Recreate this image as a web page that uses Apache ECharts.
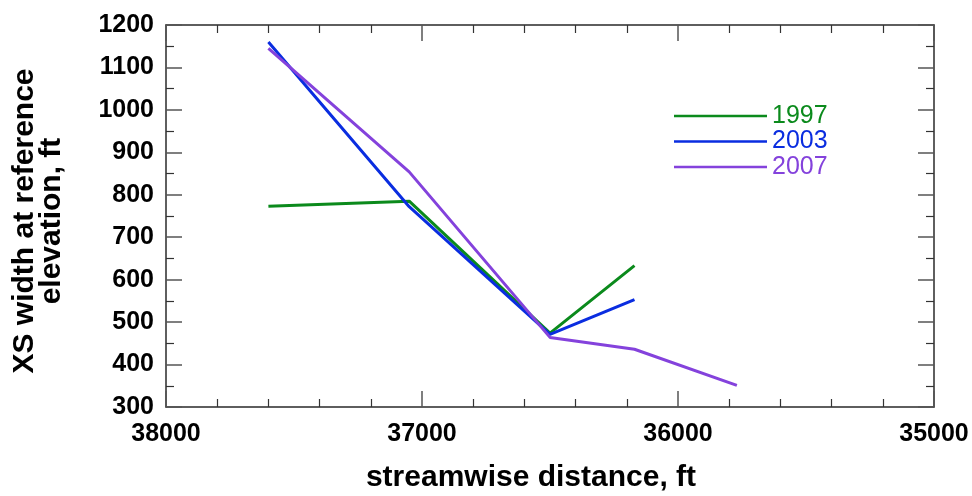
<!DOCTYPE html>
<html>
<head>
<meta charset="utf-8">
<script src="https://cdn.jsdelivr.net/npm/echarts@6/dist/echarts.min.js"></script>
<style>
  html, body { margin: 0; padding: 0; background: #fff; }
  #chart { width: 972px; height: 496px; }
</style>
</head>
<body>
<div id="chart"></div>
<script>
// Streamwise distance of each cross section (ft)
const distances = [37600, 37050, 36500, 36170, 35770];
// Cross-section width at reference elevation (ft), by survey year
const width1997 = [773, 785, 474, 633, null];
const width2003 = [1160, 772, 471, 553, null];
const width2007 = [1145, 854, 464, 436, 351];
const years = ['1997', '2003', '2007'];
const colors = ['#0b8a1c', '#0a2de0', '#8442dc'];

const xTicks = { min: 35000, max: 38000, interval: 1000 };
const yTicks = { min: 300, max: 1200, interval: 100 };

const FONT = 'Liberation Sans, Arial, Helvetica, sans-serif';
const frameColor = '#2a2a2a';

function pairs(values) {
  return distances.map((d, i) => [d, values[i]]).filter(p => p[1] != null);
}

const plainNumber = v => String(v);

function xAxisDef(pos, labels) {
  return {
    type: 'value', position: pos, inverse: true,
    min: xTicks.min, max: xTicks.max, interval: xTicks.interval,
    axisLine: { show: true, onZero: false, lineStyle: { color: frameColor, width: 1.5 } },
    axisTick: { show: true, inside: true, length: 16, lineStyle: { color: '#555', width: 1.5 } },
    minorTick: { show: true, splitNumber: 5, length: 8, lineStyle: { color: '#333', width: 1.2 } },
    splitLine: { show: false },
    axisLabel: { show: labels, margin: 15, color: '#000', fontFamily: FONT, fontWeight: 'bold',
                 fontSize: 25, formatter: plainNumber }
  };
}
function yAxisDef(pos, labels) {
  return {
    type: 'value', position: pos,
    min: yTicks.min, max: yTicks.max, interval: yTicks.interval,
    axisLine: { show: true, onZero: false, lineStyle: { color: frameColor, width: 1.5 } },
    axisTick: { show: true, inside: true, length: 16, lineStyle: { color: '#555', width: 1.5 } },
    minorTick: { show: true, splitNumber: 2, length: 8, lineStyle: { color: '#333', width: 1.2 } },
    splitLine: { show: false },
    axisLabel: { show: labels, margin: 12, color: '#000', fontFamily: FONT, fontWeight: 'bold',
                 fontSize: 25, formatter: plainNumber }
  };
}

const seriesValues = [width1997, width2003, width2007];

const option = {
  animation: false,
  backgroundColor: '#fff',
  grid: { left: 166, right: 38, top: 25, bottom: 89, containLabel: false },
  xAxis: [xAxisDef('bottom', true), xAxisDef('top', false)],
  yAxis: [yAxisDef('left', true), yAxisDef('right', false)],
  legend: {
    orient: 'vertical',
    left: 669, top: 98.5,
    icon: 'rect',
    itemWidth: 93, itemHeight: 2.5,
    itemGap: 0.5,
    textStyle: { fontFamily: FONT, fontSize: 25, lineHeight: 25 },
    data: years.map((y, i) => ({ name: y, textStyle: { color: colors[i] } }))
  },
  series: years.map((y, i) => ({
    name: y,
    type: 'line',
    xAxisIndex: 0, yAxisIndex: 0,
    data: pairs(seriesValues[i]),
    showSymbol: false,
    symbol: 'none',
    color: colors[i],
    itemStyle: { color: colors[i] },
    lineStyle: { color: colors[i], width: 3 }
  })),
  graphic: [
    {
      type: 'text', x: 531, y: 478,
      style: { text: 'streamwise distance, ft', font: 'bold 30px ' + FONT, fill: '#000',
               textAlign: 'center', textVerticalAlign: 'middle' }
    },
    {
      type: 'text', x: 38, y: 221, rotation: Math.PI / 2,
      style: { text: 'XS width at reference\nelevation, ft', font: 'bold 30px ' + FONT, fill: '#000',
               textAlign: 'center', textVerticalAlign: 'middle', lineHeight: 27 }
    }
  ]
};

const chart = echarts.init(document.getElementById('chart'), null, { renderer: 'canvas' });
chart.setOption(option);
</script>
</body>
</html>
